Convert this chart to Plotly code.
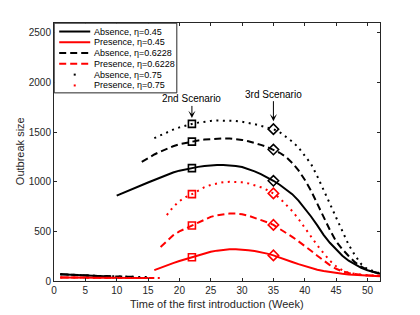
import plotly.graph_objects as go

# ---------------- data ----------------
weeks = list(range(1, 53))

# low-level segments (weeks 1..) before the jump
black_low = [68, 64, 61, 58, 55, 53, 51, 49, 47, 45, 44, 42, 41, 40, 39]
red_low = [36, 35, 35, 34, 34, 33, 33, 32, 32, 31, 31, 31, 30, 30, 30, 30, 29]

# high segments: first week of the segment and its values up to week 52
abs_045_start = 10
abs_045 = [860, 888, 915, 942, 968, 993, 1018, 1045, 1070, 1093, 1112, 1126, 1137,
           1150, 1159, 1165, 1168, 1168, 1165, 1159, 1148, 1130, 1105, 1077, 1045,
           1010, 970, 925, 875, 810, 735, 650, 560, 465, 385, 315, 255, 205, 165,
           132, 108, 88, 72]

pres_045_start = 16
pres_045 = [110, 135, 158, 180, 201, 221, 240, 260, 279, 294, 306, 315, 320, 321,
            318, 311, 302, 290, 276, 258, 238, 215, 192, 170, 149, 130, 114, 100,
            89, 80, 72, 66, 61, 56, 52, 49, 47]

abs_0622_start = 14
abs_0622 = [1200, 1240, 1275, 1305, 1333, 1358, 1378, 1393, 1405, 1416, 1425, 1431,
            1435, 1437, 1436, 1431, 1422, 1408, 1392, 1372, 1350, 1325, 1292, 1250,
            1190, 1115, 1020, 910, 775, 640, 515, 400, 320, 252, 190, 145, 112, 90, 75]

pres_0622_start = 17
pres_0622 = [343, 405, 460, 500, 530, 560, 592, 622, 646, 663, 674, 680, 680, 673,
             658, 638, 615, 592, 565, 527, 487, 445, 400, 355, 305, 255, 205, 160,
             123, 97, 80, 69, 62, 58, 55, 53]

abs_075_start = 16
abs_075 = [1440, 1470, 1500, 1525, 1548, 1567, 1583, 1596, 1606, 1613, 1617, 1618,
           1617, 1613, 1605, 1594, 1580, 1564, 1547, 1530, 1500, 1455, 1405, 1345,
           1265, 1180, 1055, 925, 780, 640, 495, 365, 260, 170, 120, 95, 78]

pres_075_start = 18
pres_075 = [665, 745, 805, 845, 875, 912, 945, 968, 985, 996, 1000, 1000, 995, 984,
            967, 945, 917, 883, 835, 775, 705, 625, 535, 445, 360, 280, 205, 148,
            108, 83, 70, 62, 57, 54, 52]

labels = ["Absence, η=0.45", "Presence, η=0.45",
          "Absence, η=0.6228", "Presence, η=0.6228",
          "Absence, η=0.75", "Presence, η=0.75"]

scenario_weeks = [22, 35]
scenario_text = ["2nd Scenario", "3rd Scenario"]

x_ticks = [0, 5, 10, 15, 20, 25, 30, 35, 40, 45, 50]
y_ticks = [0, 500, 1000, 1500, 2000, 2500]

x_title = "Time of the first introduction (Week)"
y_title = "Outbreak size"

# ---------------- styling ----------------
BLACK = "#000000"
RED = "#ff0000"
AX = "#262626"
DASH = "7px,4px"
DOT = "2px,4.5px"
FONT = "Liberation Sans, Arial"

curves = [
    (abs_045_start, abs_045, black_low, BLACK, "solid"),
    (pres_045_start, pres_045, red_low, RED, "solid"),
    (abs_0622_start, abs_0622, black_low, BLACK, DASH),
    (pres_0622_start, pres_0622, red_low, RED, DASH),
    (abs_075_start, abs_075, black_low, BLACK, DOT),
    (pres_075_start, pres_075, red_low, RED, DOT),
]

fig = go.Figure()

for (start, high, low, color, dash), name in zip(curves, labels):
    n_low = start - 1
    xs = weeks[:n_low] + [None] + weeks[n_low:]
    ys = low[:n_low] + [None] + high
    fig.add_trace(go.Scatter(x=xs, y=ys, mode="lines", name=name,
                             line=dict(color=color, width=2, dash=dash),
                             connectgaps=False, showlegend=False,
                             hoverinfo="skip"))

# scenario markers
for (start, high, low, color, dash) in curves:
    w2, w3 = scenario_weeks
    fig.add_trace(go.Scatter(x=[w2], y=[high[w2 - start]],
                             mode="markers", showlegend=False,
                             marker=dict(symbol="square-open", size=7, color=color,
                                         line=dict(width=1.6, color=color))))
    fig.add_trace(go.Scatter(x=[w3], y=[high[w3 - start]],
                             mode="markers", showlegend=False,
                             marker=dict(symbol="diamond-open", size=8, color=color,
                                         line=dict(width=1.6, color=color))))

# scenario annotations (arrow to the top curve)
top_start, top_vals = abs_075_start, abs_075
for w, txt, ay, so in zip(scenario_weeks, scenario_text, [-25, -35], [6, 8]):
    fig.add_annotation(x=w, y=top_vals[w - top_start], xref="x", yref="y",
                       text=txt, showarrow=True, ax=0, ay=ay,
                       arrowhead=3, arrowsize=1.2, arrowwidth=1, arrowcolor=BLACK,
                       standoff=so, font=dict(size=10, color=BLACK, family=FONT))

# ---------------- geometry (page body has an 8px margin) ----------------
OFF = 8
W, H = 420 - OFF, 315 - OFF
ML = 54.3 - OFF
MT = 23.3 - OFF
MR = W - (380 - OFF)
MB = H - (280.7 - OFF)
PW, PH = W - ML - MR, H - MT - MB


def px(x):  # window pixel x -> paper
    return (x - OFF - ML) / PW


def py(y):  # window pixel y -> paper
    return (H - MB - (y - OFF)) / PH


shapes = [dict(type="rect", xref="paper", yref="paper",
               x0=px(54.5), x1=px(177), y0=py(93), y1=py(23.5),
               fillcolor="white", line=dict(color=AX, width=1), layer="above")]
row_y = [31.8, 42.5, 53.2, 64.0, 74.8, 85.6]
for (start, high, low, color, dash), name, ry in zip(curves, labels, row_y):
    if dash == DOT:
        shapes.append(dict(type="rect", xref="paper", yref="paper",
                           x0=px(74), x1=px(76), y0=py(ry + 1), y1=py(ry - 1),
                           fillcolor=color, line=dict(width=0), layer="above"))
    else:
        shapes.append(dict(type="line", xref="paper", yref="paper",
                           x0=px(59.5), x1=px(90.5), y0=py(ry), y1=py(ry),
                           line=dict(color=color, width=2, dash=dash), layer="above"))
    fig.add_annotation(x=px(92.5), y=py(ry), xref="paper", yref="paper",
                       xanchor="left", yanchor="middle", showarrow=False,
                       text=name, font=dict(size=9, color=BLACK, family=FONT))

fig.add_annotation(x=0.5, y=py(303.5), xref="paper", yref="paper",
                   xanchor="center", yanchor="middle", showarrow=False,
                   text=x_title, font=dict(size=11, color=AX, family=FONT))
fig.add_annotation(x=px(20.5), y=py(151), xref="paper", yref="paper",
                   xanchor="center", yanchor="middle", showarrow=False, textangle=-90,
                   text=y_title, font=dict(size=11, color=AX, family=FONT))

fig.update_layout(
    width=W, height=H,
    margin=dict(l=ML, r=MR, t=MT, b=MB, pad=0),
    paper_bgcolor="white", plot_bgcolor="white",
    font=dict(family=FONT, size=10, color=AX),
    shapes=shapes,
    showlegend=False,
)
fig.update_xaxes(range=[0, 52], tickvals=x_ticks, ticks="inside", ticklen=3,
                 tickcolor=AX, showline=True, linecolor=AX, linewidth=1,
                 mirror="ticks", showgrid=False, zeroline=False,
                 tickfont=dict(size=10, color=AX))
fig.update_yaxes(range=[0, 2600], tickvals=y_ticks, ticks="inside", ticklen=3,
                 tickcolor=AX, showline=True, linecolor=AX, linewidth=1,
                 mirror="ticks", showgrid=False, zeroline=False,
                 tickfont=dict(size=10, color=AX))

fig.write_html("out.html")
